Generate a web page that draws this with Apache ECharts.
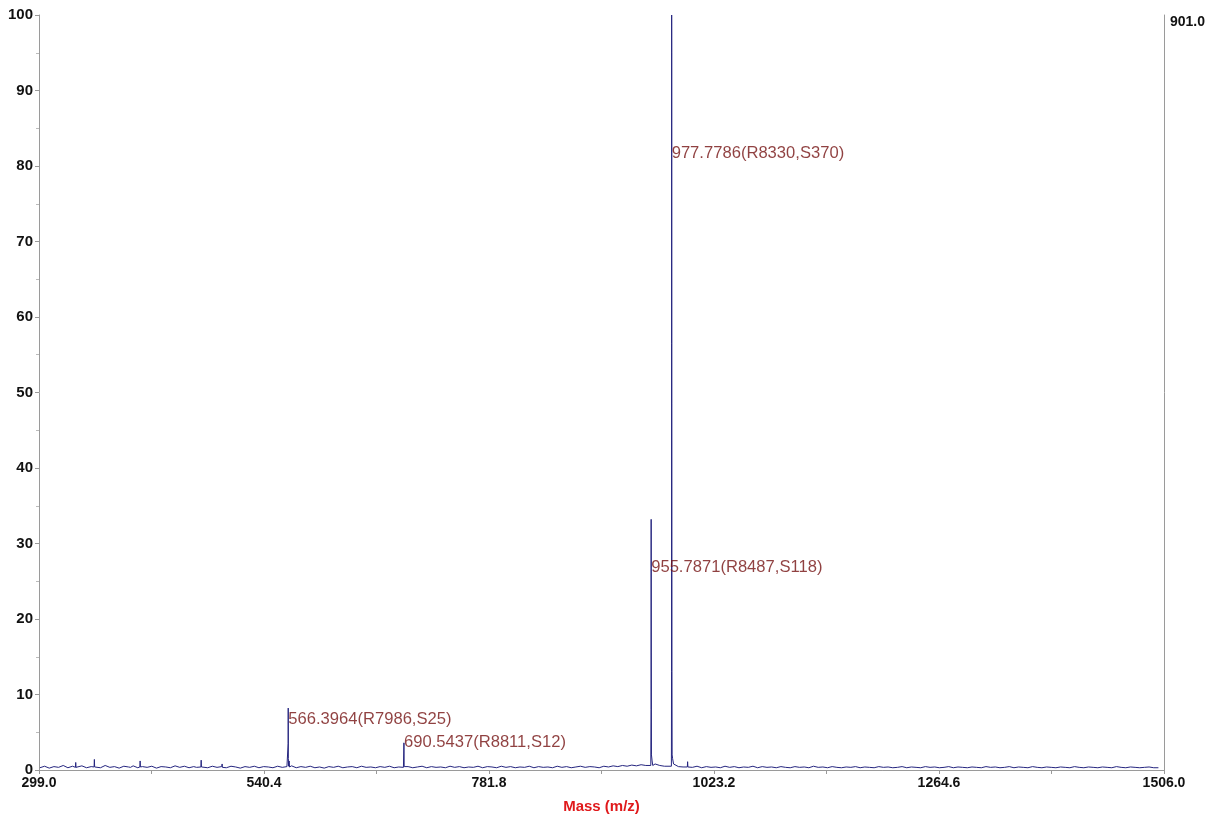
<!DOCTYPE html>
<html>
<head>
<meta charset="utf-8">
<script src="https://cdn.jsdelivr.net/npm/echarts@6/dist/echarts.min.js"></script>
<style>html,body{margin:0;padding:0;background:#fff;}#c{width:1219px;height:817px;}</style>
</head>
<body>
<div id="c"></div>
<script>
// x-axis tick labels (m/z)
const xTickLabels = [299.0, 540.4, 781.8, 1023.2, 1264.6, 1506.0];
const xMinorTicks = [419.7, 661.1, 902.5, 1143.9, 1385.3];
const rightTopLabel = '901.0';

// noisy baseline (m/z, relative intensity), sampled every 5 m/z from 300 to 1500
const baselineMz = [
  300,305,310,315,320,325,330,335,340,345,350,355,360,365,370,375,380,385,390,395,
  400,405,410,415,420,425,430,435,440,445,450,455,460,465,470,475,480,485,490,495,
  500,505,510,515,520,525,530,535,540,545,550,555,560,565,570,575,580,585,590,595,
  600,605,610,615,620,625,630,635,640,645,650,655,660,665,670,675,680,685,690,695,
  700,705,710,715,720,725,730,735,740,745,750,755,760,765,770,775,780,785,790,795,
  800,805,810,815,820,825,830,835,840,845,850,855,860,865,870,875,880,885,890,895,
  900,905,910,915,920,925,930,935,940,945,950,960,965,970,985,990,
  1000,1005,1010,1015,1020,1025,1030,1035,1040,1045,1050,1055,1060,1065,1070,1075,1080,1085,1090,1095,
  1100,1105,1110,1115,1120,1125,1130,1135,1140,1145,1150,1155,1160,1165,1170,1175,1180,1185,1190,1195,
  1200,1205,1210,1215,1220,1225,1230,1235,1240,1245,1250,1255,1260,1265,1270,1275,1280,1285,1290,1295,
  1300,1305,1310,1315,1320,1325,1330,1335,1340,1345,1350,1355,1360,1365,1370,1375,1380,1385,1390,1395,
  1400,1405,1410,1415,1420,1425,1430,1435,1440,1445,1450,1455,1460,1465,1470,1475,1480,1485,1490,1495,
  1500];
const baselineInt = [
  0.3,0.5,0.25,0.45,0.35,0.6,0.3,0.5,0.4,0.55,0.3,0.45,0.5,0.3,0.6,0.35,0.45,0.25,0.5,0.4,
  0.55,0.3,0.45,0.35,0.5,0.25,0.45,0.4,0.3,0.55,0.35,0.5,0.3,0.45,0.4,0.6,0.3,0.5,0.35,0.45,
  0.3,0.5,0.4,0.25,0.45,0.35,0.5,0.3,0.45,0.4,0.3,0.5,0.35,0.45,0.55,0.3,0.45,0.35,0.5,0.3,
  0.4,0.25,0.45,0.35,0.5,0.3,0.4,0.45,0.3,0.5,0.35,0.4,0.3,0.45,0.35,0.5,0.3,0.4,0.35,0.45,
  0.3,0.4,0.5,0.3,0.45,0.35,0.4,0.3,0.5,0.35,0.45,0.3,0.4,0.35,0.5,0.3,0.45,0.4,0.3,0.5,
  0.35,0.45,0.3,0.4,0.35,0.5,0.3,0.45,0.35,0.4,0.3,0.5,0.35,0.45,0.3,0.4,0.5,0.35,0.45,0.4,
  0.3,0.5,0.4,0.55,0.45,0.6,0.5,0.65,0.55,0.7,0.6,0.8,0.6,0.5,0.45,0.4,
  0.35,0.5,0.3,0.45,0.35,0.4,0.3,0.5,0.35,0.45,0.3,0.4,0.35,0.5,0.3,0.45,0.35,0.4,0.3,0.45,
  0.35,0.3,0.45,0.35,0.4,0.3,0.5,0.35,0.4,0.3,0.45,0.35,0.3,0.4,0.35,0.45,0.3,0.4,0.35,0.3,
  0.45,0.35,0.4,0.3,0.35,0.45,0.3,0.4,0.35,0.3,0.45,0.35,0.4,0.3,0.35,0.45,0.3,0.4,0.35,0.3,
  0.4,0.35,0.3,0.45,0.35,0.4,0.3,0.35,0.45,0.3,0.4,0.35,0.3,0.45,0.35,0.3,0.4,0.35,0.3,0.4,
  0.35,0.3,0.45,0.35,0.3,0.4,0.35,0.3,0.4,0.35,0.3,0.45,0.35,0.3,0.4,0.35,0.3,0.35,0.4,0.3,
  0.3];

// peak profiles (m/z, relative intensity)
const peakMz = [338.1,338.4,338.7, 358.1,358.4,358.7, 397.2,397.5,397.8, 407.2,407.5,407.8,
  468.0,468.3,468.6, 472.7,473.0,473.3, 495.2,495.5,495.8,
  566.1,566.3,566.4,566.55,566.8,567.4,567.8,
  690.3,690.54,690.8,
  955.4,955.65,955.79,955.9,956.1,956.8,957.5,
  977.5,977.65,977.78,977.85,977.95,978.1,978.3,978.8,979.8,
  994.6,994.9,995.2];
const peakInt = [0.35,1.0,0.35, 0.4,1.4,0.4, 0.35,0.6,0.35, 0.4,1.2,0.4,
  0.35,0.6,0.35, 0.4,1.3,0.4, 0.35,0.8,0.35,
  0.5,3.5,8.2,1.5,0.5,1.2,0.4,
  0.4,3.6,0.45,
  0.6,8.0,33.2,15.5,2.0,1.2,0.6,
  0.5,13.0,100,95,48.5,13.0,2.0,1.5,0.8,
  0.4,1.1,0.4];

// annotations
const labelMz = [977.78, 955.79, 566.40, 690.54];
const labelY = [81.6, 26.8, 6.75, 3.7];
const labelText = ['977.7786(R8330,S370)', '955.7871(R8487,S118)', '566.3964(R7986,S25)', '690.5437(R8811,S12)'];

const spectrum = [];
baselineMz.forEach((m, i) => spectrum.push([m, baselineInt[i]]));
peakMz.forEach((m, i) => spectrum.push([m, peakInt[i]]));
spectrum.sort((a, b) => a[0] - b[0]);

const labelData = labelMz.map((m, i) => ({ value: [m, labelY[i]], label: { formatter: labelText[i] } }));

const chart = echarts.init(document.getElementById('c'), null, { renderer: 'canvas' });
const axisGray = '#9a9a9a';
const fam = 'Liberation Sans, Arial, sans-serif';

chart.setOption({
  animation: false,
  backgroundColor: '#fff',
  grid: { left: 39, right: 55, top: 15, bottom: 47, containLabel: false, outerBoundsMode: 'none' },
  xAxis: {
    type: 'value', min: 299, max: 1506,
    splitLine: { show: false },
    axisLine: { lineStyle: { color: axisGray, width: 1 } },
    axisTick: { show: true, length: 4, lineStyle: { color: axisGray },
      customValues: xTickLabels.concat(xMinorTicks).sort((a, b) => a - b) },
    axisLabel: { margin: 6, customValues: xTickLabels, formatter: v => Number(v).toFixed(1),
      fontFamily: fam, fontWeight: 'bold', fontSize: 14, color: '#111' },
    name: 'Mass (m/z)', nameLocation: 'middle', nameGap: 29,
    nameTextStyle: { color: '#e0191b', fontWeight: 'bold', fontSize: 15, fontFamily: fam }
  },
  yAxis: [{
    type: 'value', min: 0, max: 100, interval: 10,
    splitLine: { show: false },
    axisLine: { show: true, lineStyle: { color: axisGray, width: 1 } },
    axisTick: { show: true, length: 4, lineStyle: { color: axisGray } },
    minorTick: { show: true, splitNumber: 2, length: 3, lineStyle: { color: '#bbb' } },
    axisLabel: { margin: 6, fontFamily: fam, fontWeight: 'bold', fontSize: 15, color: '#111' }
  }, {
    type: 'value', min: 0, max: 100, interval: 100, position: 'right',
    splitLine: { show: false },
    axisLine: { show: true, lineStyle: { color: axisGray, width: 1 } },
    axisTick: { show: false },
    axisLabel: { margin: 6, verticalAlign: 'top', align: 'left',
      formatter: v => (v === 100 ? rightTopLabel : ''),
      fontFamily: fam, fontWeight: 'bold', fontSize: 14, color: '#111' }
  }],
  series: [{
    type: 'line', data: spectrum, showSymbol: false, symbol: 'none',
    lineStyle: { color: '#25257f', width: 1 }, z: 2
  }, {
    type: 'scatter', data: labelData, symbolSize: 0, z: 3,
    label: { show: true, position: 'right', distance: 0, color: '#741212', fontSize: 16.6,
      fontFamily: fam }
  }]
});
</script>
</body>
</html>
